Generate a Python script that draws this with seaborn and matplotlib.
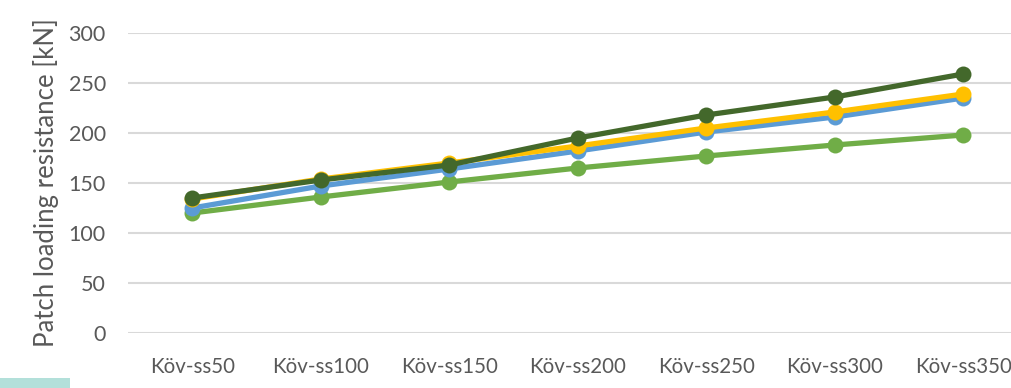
import matplotlib
matplotlib.use("Agg")
import matplotlib.pyplot as plt
import matplotlib.patches as mpatches
import numpy as np
import pandas as pd
import seaborn as sns

# Specimen names on the x axis
categories = ["Köv-ss50", "Köv-ss100", "Köv-ss150", "Köv-ss200",
              "Köv-ss250", "Köv-ss300", "Köv-ss350"]

# Patch loading resistance [kN] for each series
light_green = [120, 136, 151, 165, 177, 188, 198]
blue = [125, 147, 164, 182, 201, 216, 235]
yellow = [134, 154, 170, 187, 205, 221, 239]
dark_green = [135, 153, 168, 195, 218, 236, 259]

y_ticks = [0, 50, 100, 150, 200, 250, 300]

series_order = ["light_green", "blue", "yellow", "dark_green"]
series_values = [light_green, blue, yellow, dark_green]
palette = {"light_green": "#70AD47", "blue": "#5B9BD5",
           "yellow": "#FFC000", "dark_green": "#43682B"}

df = pd.DataFrame({
    "specimen": categories * len(series_order),
    "resistance": np.concatenate(series_values),
    "series": np.repeat(series_order, len(categories)),
})
df["pos"] = df["specimen"].map({c: i for i, c in enumerate(categories)})

sns.set_theme(style="white")
plt.rcParams["font.family"] = ["Lato", "DejaVu Sans"]

fig = plt.figure(figsize=(10.12, 3.88), dpi=100)
ax = fig.add_axes([128 / 1012, 55 / 388, 899.5 / 1012, 300 / 388])

for name in series_order:
    sub = df[df["series"] == name]
    sns.lineplot(data=sub, x="pos", y="resistance", ax=ax, color=palette[name],
                 linewidth=3.8, marker="o", markersize=11.5,
                 markeredgewidth=0, legend=False, sort=False)

ax.set_xlim(-0.5, len(categories) - 0.5)
ax.set_ylim(0, 300)
ax.set_xticks(range(len(categories)))
ax.set_xticklabels(categories)
ax.set_yticks(y_ticks)
ax.set_yticklabels([str(t) for t in y_ticks])

ax.grid(axis="y", color="#D9D9D9", linewidth=1.5)
ax.set_axisbelow(True)
for s in ax.spines.values():
    s.set_visible(False)

ax.tick_params(axis="both", length=0, colors="#595959")
ax.tick_params(axis="y", pad=16, labelsize=15.5)
ax.tick_params(axis="x", pad=17, labelsize=14.8)
ax.set_xlabel("")
ax.set_ylabel("Patch loading resistance [kN]", fontsize=18.5, color="#595959",
              labelpad=7)

# Small teal tab along the lower-left edge
fig.patches.append(mpatches.Rectangle((0, 0), 70 / 1012, 10 / 388,
                                      transform=fig.transFigure,
                                      facecolor="#B3E0DA", edgecolor="none"))

fig.savefig("out.png", dpi=100)
